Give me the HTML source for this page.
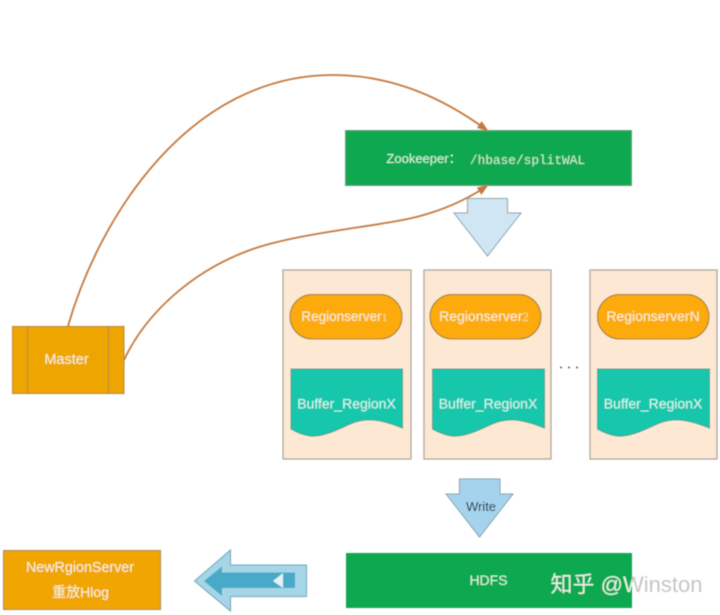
<!DOCTYPE html>
<html><head><meta charset="utf-8"><style>
html,body{margin:0;padding:0;background:#fff}
svg{display:block}
text{font-family:"Liberation Sans","Noto Sans CJK SC",sans-serif;fill:#f6f3d8;text-anchor:middle}
</style></head><body>
<svg width="720" height="615" viewBox="0 0 720 615" xmlns="http://www.w3.org/2000/svg">
<defs>
<filter id="b" x="-5%" y="-5%" width="110%" height="110%"><feGaussianBlur stdDeviation="0.4"/></filter>
<linearGradient id="wm" gradientUnits="userSpaceOnUse" x1="0" y1="0" x2="720" y2="0">
<stop offset="0.8778" stop-color="#e4f3e6"/><stop offset="0.8778" stop-color="#c4c6c4"/>
</linearGradient>
</defs>
<rect width="720" height="615" fill="#fff"/>
<g filter="url(#b)">
<!-- Zookeeper -->
<rect x="345.500" y="130.500" width="286" height="55" fill="#0ba84f" stroke="#5f9f7f"/>
<text x="424" y="163" font-size="13" style="fill:#d6f5dd">Zookeeper：</text>
<text x="527.500" y="164" font-size="12.800" style="font-family:'Liberation Mono',monospace;fill:#c8eed2">/hbase/splitWAL</text>

<!-- connectors -->
<path d="M68 326 C100 215 190 75 333 75 C395 75 445 100 484 128" fill="none" stroke="#c5793f" stroke-width="1.800"/>
<path d="M487.500 130.500 L481.700 122 L477.700 127.600 Z" fill="#c5793f" stroke="#c5793f"/>
<path d="M124 360 C145 315 190 272 250 250 C300 232 385 226 420 216 C450 208 470 197 484 188" fill="none" stroke="#c5793f" stroke-width="1.800"/>
<path d="M487.500 185.500 L477.600 188 L481.400 194 Z" fill="#c5793f" stroke="#c5793f"/>

<!-- Down arrow 1 -->
<path d="M467.500 198.500 H507.500 V213 H521 L487.500 256 L454 213 H467.500 Z" fill="#d0e6f3" stroke="#8aa2ad"/>

<!-- Region boxes -->
<rect x="283" y="270" width="128" height="189" fill="#fce8d3" stroke="#a6a19a" stroke-width="1.200"/>
<rect x="424" y="270" width="127" height="189" fill="#fce8d3" stroke="#a6a19a" stroke-width="1.200"/>
<rect x="590" y="270" width="127" height="189" fill="#fce8d3" stroke="#a6a19a" stroke-width="1.200"/>

<!-- Pills -->
<rect x="290" y="294.500" width="112" height="44.500" rx="22.200" fill="#fdaa0c" stroke="#9a7a2a"/>
<rect x="430" y="294.500" width="111" height="44.500" rx="22.200" fill="#fdaa0c" stroke="#9a7a2a"/>
<rect x="597.500" y="294.500" width="111.500" height="44.500" rx="22.200" fill="#fdaa0c" stroke="#9a7a2a"/>
<text x="344.500" y="321" font-size="13.500">Regionserver<tspan style="font-family:'Liberation Serif',serif" font-size="12" opacity="0.700">1</tspan></text>
<text x="484" y="321" font-size="14">Regionserver<tspan style="font-family:'Liberation Serif',serif" font-size="13" opacity="0.700">2</tspan></text>
<text x="653" y="321" font-size="14">RegionserverN</text>

<!-- Documents -->
<path d="M291 369 H402.500 V428 C385 421 368 416 350 424 C335 431 322 437 310 436 C302 435 296 432 291 429 Z" fill="#17c7ac" stroke="#3f9e8e"/>
<path d="M432.500 369 H544.500 V428 C527 421 510 416 492 424 C477 431 464 437 452 436 C444 435 438 432 432.500 429 Z" fill="#17c7ac" stroke="#3f9e8e"/>
<path d="M597.500 369 H709.500 V428 C692 421 675 416 657 424 C642 431 629 437 617 436 C609 435 603 432 597.500 429 Z" fill="#17c7ac" stroke="#3f9e8e"/>
<text x="346.500" y="408.500" font-size="14" style="fill:#d8f6f0">Buffer_RegionX</text>
<text x="488" y="408.500" font-size="14" style="fill:#d8f6f0">Buffer_RegionX</text>
<text x="653" y="408.500" font-size="14" style="fill:#d8f6f0">Buffer_RegionX</text>

<!-- Ellipsis -->
<circle cx="561" cy="367.500" r="0.900" fill="#333"/>
<circle cx="569" cy="367.500" r="0.900" fill="#333"/>
<circle cx="577" cy="367.500" r="0.900" fill="#333"/>

<!-- Master -->
<rect x="12.500" y="326.500" width="111.500" height="67" fill="#eea505" stroke="#b5853a"/>
<path d="M27.500 326.500 V393.500 M108.500 326.500 V393.500" stroke="#b5853a" fill="none"/>
<text x="66.500" y="364" font-size="14.500">Master</text>

<!-- Write arrow -->
<path d="M459.500 479 H500 V494 H513 L479.500 537 L446 494 H459.500 Z" fill="#a5d3ee" stroke="#8aa2ad"/>
<text x="481" y="511" font-size="13" style="fill:#10202c">Write</text>

<!-- HDFS -->
<rect x="346" y="553" width="286" height="55" fill="#0ba84f"/>
<text x="488.500" y="585" font-size="14" style="fill:#d6f5dd">HDFS</text>

<!-- NewRgionServer -->
<rect x="3.500" y="550.500" width="157" height="59" fill="#f0a505" stroke="#a58a55"/>
<text x="80" y="572" font-size="14.300">NewRgionServer</text>
<text x="80.500" y="597" font-size="14">重放Hlog</text>

<!-- Left arrow -->
<path d="M194.500 581 L230.500 550 V565 H306.500 V596.500 H230.500 V611 Z" fill="#a5d6e7" stroke="#6fa3b8"/>
<path d="M204 581 L222 566.500 V572.500 H295 V588 H222 V596 Z" fill="#4aa9c8"/>
<path d="M273 581 L283 573 V588 Z" fill="#e4f3f5"/>

<!-- Watermark -->
<text x="626.500" y="592" font-size="22" style="fill:url(#wm)">知乎 @Winston</text>
</g>
</svg>
</body></html>
